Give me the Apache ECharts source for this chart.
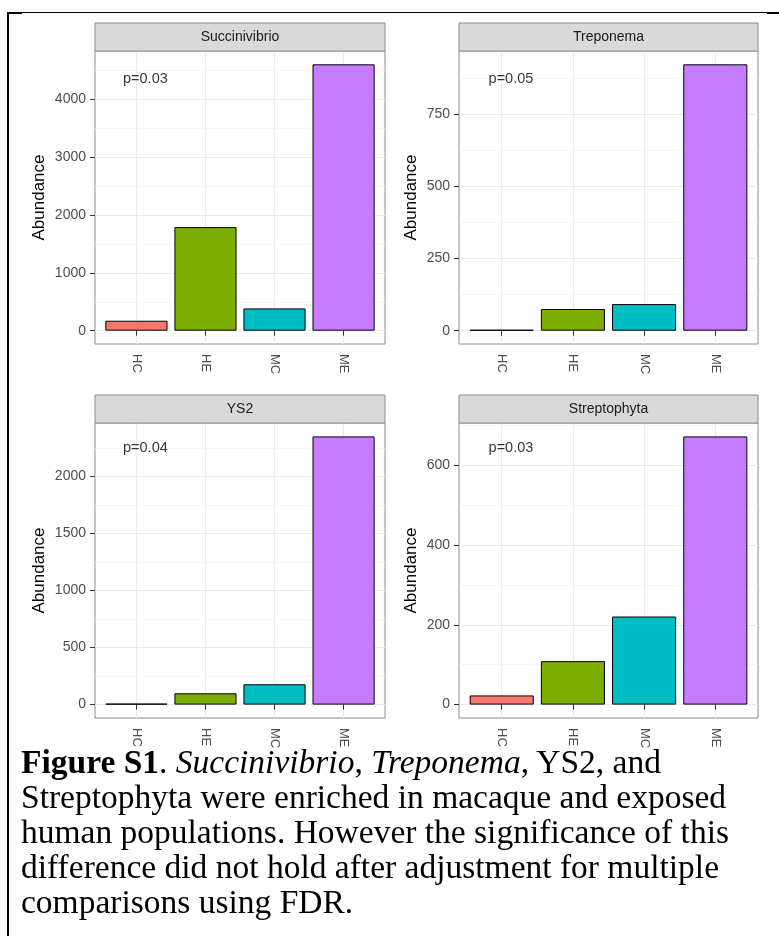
<!DOCTYPE html>
<html>
<head>
<meta charset="utf-8">
<script src="https://cdn.jsdelivr.net/npm/echarts@6/dist/echarts.min.js"></script>
<style>
html,body{margin:0;padding:0;background:#fff;}
#wrap{position:relative;width:779px;height:936px;overflow:hidden;background:#fff;}
#chart{position:absolute;left:0;top:0;width:779px;height:936px;}
.bar{position:absolute;background:#000;}
#caption{position:absolute;left:21px;top:744px;font-family:"Liberation Serif","Times New Roman",serif;font-size:33.5px;line-height:35px;color:#000;white-space:nowrap;}
</style>
</head>
<body>
<div id="wrap">
  <div id="chart"></div>
  <div class="bar" style="left:7px;top:12px;width:2px;height:924px;"></div>
  <div class="bar" style="left:7px;top:12px;width:772px;height:1px;"></div>
  <div class="bar" style="left:7px;top:12px;width:15px;height:2px;"></div>
  <div class="bar" style="left:767px;top:12px;width:12px;height:2px;"></div>
  <div id="caption"><b>Figure S1</b>. <i>Succinivibrio</i>, <i>Treponema</i>, YS2, and<br>Streptophyta were enriched in macaque and exposed<br>human populations. However the significance of this<br>difference did not hold after adjustment for multiple<br>comparisons using FDR.</div>
</div>
<script>
// ---- data ----
const categories = ['HC', 'HE', 'MC', 'ME'];
const panelTitles = ['Succinivibrio', 'Treponema', 'YS2', 'Streptophyta'];
const succinivibrio = [172, 1792, 385, 4608];
const treponema = [3, 75, 92, 922];
const ys2 = [8, 99, 178, 2351];
const streptophyta = [23, 109, 221, 673];
const pLabels = ['p=0.03', 'p=0.05', 'p=0.04', 'p=0.03'];
const pLabelX = [1.13, 1.13, 1.13, 1.13];
const pLabelY = [4360, 872, 2250, 644];
const yTicksSuccinivibrio = [0, 1000, 2000, 3000, 4000];
const yTicksTreponema = [0, 250, 500, 750];
const yTicksYS2 = [0, 500, 1000, 1500, 2000];
const yTicksStreptophyta = [0, 200, 400, 600];
const yMinorSuccinivibrio = [500, 1500, 2500, 3500, 4500];
const yMinorTreponema = [125, 375, 625, 875];
const yMinorYS2 = [250, 750, 1250, 1750, 2250];
const yMinorStreptophyta = [100, 300, 500, 700];
const groupColors = ['#F8766D', '#7CAE00', '#00BFC4', '#C77CFF'];
const yTitle = 'Abundance';

const seriesValues = [succinivibrio, treponema, ys2, streptophyta];
const yTicks = [yTicksSuccinivibrio, yTicksTreponema, yTicksYS2, yTicksStreptophyta];
const yMinor = [yMinorSuccinivibrio, yMinorTreponema, yMinorYS2, yMinorStreptophyta];

// ---- layout ----
const panels = [
  {left: 95, top: 51, width: 290, height: 293, nameGap: 47},
  {left: 459, top: 51, width: 299, height: 293, nameGap: 39},
  {left: 95, top: 423, width: 290, height: 295, nameGap: 47},
  {left: 459, top: 423, width: 299, height: 295, nameGap: 39}
];
const stripH = 28;
const FONT = '"Liberation Sans", Arial, Helvetica, sans-serif';
const BORDER = '#8c8c8c';
const GRIDC = '#EBEBEB';

const grids = [], xAxes = [], yAxes = [], series = [], graphics = [];
panels.forEach((p, i) => {
  const vals = seriesValues[i];
  const vmax = Math.max.apply(null, vals);
  const ymin = -0.05 * vmax, ymax = 1.05 * vmax;
  grids.push({left: p.left, top: p.top, width: p.width, height: p.height,
    show: true, borderColor: BORDER, borderWidth: 1, backgroundColor: '#fff'});
  xAxes.push({
    gridIndex: i, type: 'value', min: 0.4, max: 4.6,
    axisLine: {show: false},
    axisTick: {show: true, length: 5, customValues: [1, 2, 3, 4], lineStyle: {color: '#333', width: 1}},
    axisLabel: {show: true, customValues: [1, 2, 3, 4], rotate: -90, margin: 10,
      formatter: v => categories[Math.round(v) - 1] || '',
      color: '#4D4D4D', fontSize: 13, fontFamily: FONT},
    splitLine: {show: true, lineStyle: {color: GRIDC, width: 1.1}}
  });
  yAxes.push({
    gridIndex: i, type: 'value', min: ymin, max: ymax,
    axisLine: {show: false},
    axisTick: {show: true, length: 5, customValues: yTicks[i], lineStyle: {color: '#333', width: 1}},
    axisLabel: {show: true, customValues: yTicks[i], margin: 9, formatter: v => String(v),
      color: '#4D4D4D', fontSize: 14, fontFamily: FONT},
    splitLine: {show: true, lineStyle: {color: GRIDC, width: 1.1}},
    name: yTitle, nameLocation: 'middle', nameGap: p.nameGap,
    nameTextStyle: {fontSize: 17, color: '#000', fontFamily: FONT}
  });
  yAxes.push({
    gridIndex: i, type: 'value', min: ymin, max: ymax, position: 'left',
    axisLine: {show: false},
    axisTick: {show: false, customValues: yMinor[i]},
    axisLabel: {show: false, customValues: yMinor[i]},
    splitLine: {show: true, lineStyle: {color: '#F2F2F2', width: 0.7}}
  });
  series.push({
    type: 'bar', xAxisIndex: i, yAxisIndex: 2 * i,
    barWidth: p.width * 0.9 / 4.2,
    itemStyle: {borderColor: '#000', borderWidth: 1},
    data: vals.map((v, j) => ({value: [j + 1, v], itemStyle: {color: groupColors[j]}})),
    silent: true, z: 3
  });
  series.push({
    type: 'scatter', xAxisIndex: i, yAxisIndex: 2 * i, symbolSize: 0,
    data: [[pLabelX[i], pLabelY[i]]],
    label: {show: true, position: 'inside', formatter: pLabels[i], color: '#000', fontSize: 14.5, fontFamily: FONT},
    silent: true, z: 4
  });
  graphics.push({
    type: 'rect', z: 10,
    shape: {x: p.left, y: p.top - stripH, width: p.width, height: stripH},
    style: {fill: '#D9D9D9', stroke: BORDER, lineWidth: 1}
  });
  graphics.push({
    type: 'text', z: 11,
    x: p.left + p.width / 2, y: p.top - stripH / 2,
    style: {text: panelTitles[i], align: 'center', verticalAlign: 'middle',
      textAlign: 'center', textVerticalAlign: 'middle',
      fontSize: 14, fontFamily: FONT, fill: '#1A1A1A'}
  });
});

const chart = echarts.init(document.getElementById('chart'), null, {renderer: 'canvas'});
chart.setOption({
  animation: false,
  backgroundColor: '#fff',
  grid: grids, xAxis: xAxes, yAxis: yAxes, series: series,
  graphic: graphics
});
</script>
</body>
</html>
